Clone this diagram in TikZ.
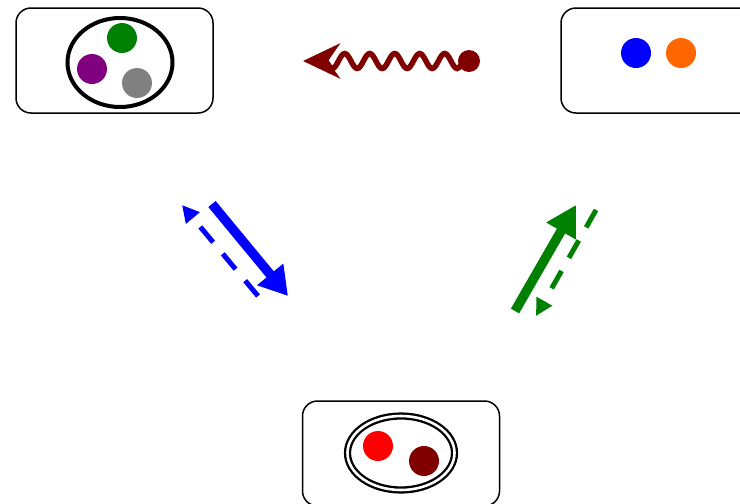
\documentclass[tikz,border=0pt]{standalone}
\usetikzlibrary{arrows.meta,decorations.pathmorphing}
\definecolor{dkred}{RGB}{128,0,0}
\definecolor{grn}{RGB}{0,128,0}
\definecolor{purp}{RGB}{128,0,128}
\definecolor{gry}{RGB}{128,128,128}
\definecolor{orng}{RGB}{255,102,0}
\begin{document}
\begin{tikzpicture}[x=1pt,y=-1pt,
  panel/.style={draw=black,line width=1.5pt,rounded corners=15pt,minimum width=197pt,minimum height=105pt,inner sep=0pt},
  ball/.style={circle,fill=#1,minimum size=30pt,inner sep=0pt},
  bigarrow/.style={line width=9.5pt,#1},
  dasharrow/.style={line width=5pt,dash pattern=on 20pt off 15pt,#1}]
\clip (0,0) rectangle (740,504);
% three panels
\node[panel] (A) at (114.5,60.5) {};
\node[panel] (B) at (659.5,60.5) {};
\node[panel] (C) at (401,453.5) {};
% panel A: three particles in a cage
\draw[line width=4pt] (120,62.5) ellipse [x radius=52.5, y radius=44.5];
\node[ball=grn] (a1) at (122,38) {};
\node[ball=purp] (a2) at (92,69) {};
\node[ball=gry] (a3) at (137,83) {};
% panel B: two free particles
\node[ball=blue] (b1) at (636,53) {};
\node[ball=orng] (b2) at (681,53) {};
% panel C: two particles in a double cage
\draw[line width=2.3pt,double=white,double distance=2.6pt] (401,453) ellipse [x radius=53.5, y radius=37];
\node[ball=red] (c1) at (378,446) {};
\node[ball=dkred] (c2) at (424,461) {};
% wavy arrow B -> A
\node[circle,fill=dkred,minimum size=22pt,inner sep=0pt] (w0) at (469,61) {};
\coordinate (w1) at (303,61);
\draw[dkred,line width=5.5pt,-{Stealth[length=37pt,width=35pt,inset=12pt]},
  decorate,decoration={snake,amplitude=7.5pt,segment length=25pt,pre length=4pt,post length=18pt}]
  (w0.center) -- (w1);
% A <-> C
\coordinate (p1) at (212,204);
\coordinate (p2) at (288,296);
\coordinate (q1) at (258,296);
\coordinate (q2) at (182,205);
\draw[bigarrow=blue,-{Triangle[length=28pt,width=32pt]}] (p1) -- (p2);
\draw[dasharrow=blue,-{Triangle[length=17pt,width=17pt]}] (q1) -- (q2);
% C <-> B
\coordinate (r1) at (515,311);
\coordinate (r2) at (576,205);
\coordinate (s1) at (596,210);
\coordinate (s2) at (536,316);
\draw[bigarrow=grn,-{Triangle[length=30pt,width=32pt]}] (r1) -- (r2);
\draw[dasharrow=grn,-{Triangle[length=17pt,width=17pt]}] (s1) -- (s2);
\end{tikzpicture}
\end{document}
